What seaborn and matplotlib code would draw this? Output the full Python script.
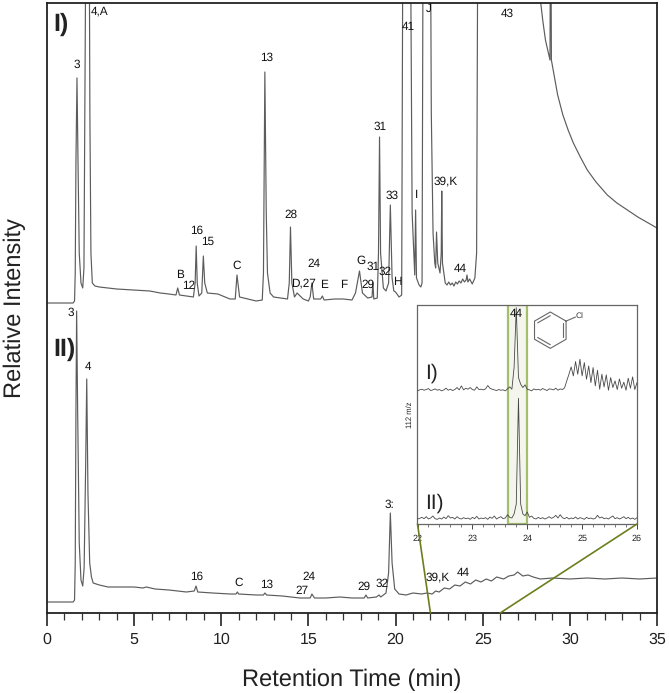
import numpy as np
import pandas as pd
import seaborn as sns
import matplotlib.pyplot as plt
from matplotlib.patches import ConnectionPatch

# chromatogram I (off scale parts go above the axis limit)
time_1 = [0, 1.5, 1.58, 1.62, 1.66, 1.72, 1.78, 1.85, 1.95, 2.05, 2.12, 2.2, 2.25, 2.42, 2.46, 2.52, 2.6, 2.75,
          3.0, 4.0, 5.0, 5.9, 6.5, 7.0, 7.4, 7.5, 7.6, 8.0, 8.4, 8.5, 8.56, 8.62, 8.72, 8.88, 8.97, 9.05, 9.2, 9.8,
          10.5, 10.8, 10.9, 11.05, 12.0, 12.35, 12.42, 12.5, 12.58, 12.65, 12.8, 13.0, 13.8, 13.9, 13.97, 14.05, 14.2,
          14.35, 14.7, 15.0, 15.1, 15.2, 15.3, 15.7, 15.8, 15.9, 16.5, 17.0, 17.5, 17.7, 17.93, 18.1, 18.4, 18.65, 18.7,
          18.75, 18.95, 19.02, 19.08, 19.14, 19.3, 19.45, 19.6, 19.7, 19.8, 19.9, 20.0, 20.2, 20.35, 20.42, 20.85,
          20.95, 21.1, 21.15, 21.2, 21.35, 21.45, 21.52, 21.58, 22.0, 22.05, 22.15, 22.25, 22.3, 22.35, 22.42, 22.55,
          22.62, 22.65, 22.69, 22.85, 22.95, 23.05, 23.15, 23.25, 23.35, 23.45, 23.55, 23.65, 23.75, 23.85, 23.95,
          24.05, 24.1, 24.15, 24.25, 24.4, 24.55, 24.65, 24.72, 28.25, 28.33, 28.45, 28.6, 28.86, 28.89, 28.91, 28.94,
          29.3, 29.6, 29.9, 30.2, 30.6, 31.0, 31.5, 32.15, 32.7, 33.3, 33.9, 34.4, 35]
signal_1 = [310, 310, 312, 340, 450, 535, 450, 360, 330, 325, 345, 600, 700, 700, 500, 360, 330, 327,
            326, 324, 323, 322, 320, 319, 318, 325, 318, 317, 316, 330, 367, 330, 317, 320, 357, 330, 320, 319,
            314, 314, 338, 316, 312, 313, 340, 541, 400, 340, 320, 316, 314, 330, 386, 330, 316,
            320, 314, 312, 316, 330, 314, 314, 317, 313, 314, 314, 313, 320, 342, 320, 315, 316, 331,
            314, 315, 360, 476, 360, 325, 322, 330, 408, 335, 322, 321, 316, 318, 700, 700,
            400, 338, 403, 335, 328, 326, 330, 700, 700, 500, 380, 350, 345, 381, 350, 340,
            360, 422, 350, 330, 328, 331, 328, 330, 327, 331, 329, 332, 330, 334, 331,
            333, 338, 331, 334, 329, 335, 360, 700, 700, 610, 592, 573, 553, 700, 700, 553,
            518, 498, 483, 470, 456, 443, 431, 418, 410, 403, 396, 391, 385]

# chromatogram II
time_2 = [0, 1.5, 1.58, 1.62, 1.66, 1.7, 1.76, 1.85, 1.95, 2.05, 2.13, 2.22, 2.28, 2.35, 2.45, 2.55, 2.65, 3.0, 3.5,
          4.0, 5.0, 5.5, 5.7, 6.2, 7.0, 8.0, 8.45, 8.55, 8.65, 9.5, 10.5, 10.85, 10.92, 11.0, 12.0, 12.42, 12.5, 12.6,
          13.5, 14.5, 15.1, 15.2, 15.35, 16.0, 16.8, 17.5, 18.2, 18.3, 18.4, 18.9, 19.05, 19.15, 19.45, 19.6, 19.7,
          19.8, 19.95, 20.2, 20.6, 21.0, 21.5, 21.8, 22.1, 22.3, 22.5, 22.8, 23.1, 23.4, 23.7, 24.0, 24.3, 24.6, 24.9,
          25.2, 25.5, 25.8, 26.2, 26.5, 26.8, 27.0, 27.3, 27.6, 27.9, 28.3, 29, 30, 31, 32, 33, 34, 35]
signal_2 = [11, 11, 13, 50, 200, 302, 200, 70, 33, 27, 45, 150, 234, 120, 50, 36, 30, 28, 26,
            26, 26, 25, 26, 24, 23, 21, 22, 27, 21, 20, 19, 19, 21, 19, 18, 18, 20, 18,
            17, 15, 15, 19, 15, 15, 16, 15, 15, 18, 15, 16, 18, 16, 20, 40, 100,
            50, 24, 19, 18, 20, 19, 20, 19, 22, 21, 25, 24, 28, 27, 31, 29, 33, 31,
            34, 32, 36, 34, 37, 38, 41, 37, 38, 36, 34, 35, 34, 35, 34, 35, 34, 35]

# inset, 112 m/z trace between 22 and 26 min, one reading every 0.04 min
inset_time = np.arange(101) * 0.04 + 22
inset_1 = [400, 403, 405, 402, 404, 407, 401, 403, 406, 402,
           404, 400, 403, 408, 402, 405, 401, 404, 410, 403,
           415, 403, 408, 405, 410, 404, 402, 412, 404, 405,
           403, 406, 416, 408, 405, 403, 401, 404, 402, 403,
           400, 406, 412, 405, 470, 650, 440, 420, 410, 418,
           405, 403, 400, 406, 403, 405, 402, 407, 404, 401,
           406, 405, 403, 408, 402, 406, 404, 409, 430, 450,
           472, 445, 488, 450, 495, 445, 485, 435, 475, 425,
           470, 415, 462, 405, 450, 412, 448, 402, 440, 410,
           430, 404, 436, 408, 426, 402, 438, 408, 442, 404, 425]
inset_2 = [15, 17, 20, 16, 22, 15, 18, 24, 16, 14,
           18, 15, 21, 16, 25, 18, 20, 15, 22, 17,
           15, 19, 16, 18, 14, 20, 16, 23, 15, 18,
           16, 19, 14, 21, 17, 24, 15, 19, 22, 16,
           18, 28, 20, 18, 30, 60, 378, 60, 30, 25,
           36, 20, 24, 17, 15, 20, 16, 19, 15, 18,
           22, 17, 20, 26, 18, 28, 19, 16, 20, 15,
           18, 16, 21, 15, 19, 17, 14, 20, 16, 18,
           15, 17, 26, 18, 21, 16, 18, 15, 20, 24,
           16, 19, 15, 18, 22, 16, 20, 15, 18, 14, 19]

# peak labels: text, retention time, height
labels_1 = ['3', '4,A', '13', '16', '15', 'B', '12', 'C', '28', '24', 'D,27', 'E', 'F', 'G', '31', '29', '32', 'H',
            '31', '33', '41', 'I', 'J', '39,K', '44', '43']
label_t_1 = [1.72, 3.0, 12.6, 8.56, 9.2, 7.6, 8.1, 10.9, 14.0, 15.3, 14.7, 15.9, 17.0, 18.0, 18.7, 18.4, 19.4, 20.1,
             19.1, 19.8, 20.7, 21.2, 21.9, 22.9, 23.7, 26.4]
label_v_1 = [548, 602, 555, 382, 371, 338, 327, 347, 398, 349, 330, 328, 328, 352, 346, 328, 341, 331,
             486, 417, 586, 418, 604, 432, 344, 599]
labels_2 = ['3', '4', '16', 'C', '13', '27', '24', '29', '32', '3:', '39,K', '44']
label_t_2 = [1.38, 2.36, 8.6, 11.0, 12.6, 14.6, 15.05, 18.2, 19.2, 19.65, 22.4, 23.9]
label_v_2 = [300, 246, 36, 30, 28, 22, 36, 26, 29, 108, 36, 40]

sns.set_theme(style='white')
plt.rcParams['font.family'] = ['Liberation Sans', 'DejaVu Sans']
plt.rcParams['text.hinting'] = 'no_hinting'

W, H = 669, 693
fig = plt.figure(figsize=(W / 100, H / 100), dpi=100)
ax = fig.add_axes([47 / W, (H - 613) / H, 610 / W, 610 / H])

line_col = '#5c5c5c'
df_1 = pd.DataFrame({'t': time_1, 'v': signal_1})
df_2 = pd.DataFrame({'t': time_2, 'v': signal_2})
sns.lineplot(data=df_1, x='t', y='v', ax=ax, color=line_col, lw=0.85, estimator=None, sort=False)
sns.lineplot(data=df_2, x='t', y='v', ax=ax, color=line_col, lw=0.85, estimator=None, sort=False)

ax.set_xlim(0, 35)
ax.set_ylim(0, 610)
ax.set_xticks(np.arange(0, 36, 5))
ax.set_xticks(np.arange(0, 36, 1), minor=True)
ax.set_yticks([])
ax.tick_params(axis='x', which='major', bottom=True, length=9, width=1.2, color='#222222', labelsize=11.5, pad=5)
ax.tick_params(axis='x', which='minor', bottom=True, length=5, width=0.9, color='#333333')
for s in ax.spines.values():
    s.set_color('#222222')
    s.set_linewidth(1.3)
ax.set_xlabel('Retention Time (min)', fontsize=17, labelpad=15, color='#222222')
ax.set_ylabel('Relative Intensity', fontsize=17, labelpad=15, color='#222222')
ax.tick_params(labelcolor='#222222')

for txt, t, v in zip(labels_1 + labels_2, label_t_1 + label_t_2, label_v_1 + label_v_2):
    ax.text(t, v, txt, fontsize=8.5, ha='center', va='center', color='#111111', zorder=6)

ax.text(6 / 610, 589 / 610, 'I)', transform=ax.transAxes, fontsize=18, fontweight='bold', va='center', color='#222222')
ax.text(6 / 610, 264 / 610, 'II)', transform=ax.transAxes, fontsize=18, fontweight='bold', va='center', color='#222222')

# inset with the 112 m/z traces
ins = fig.add_axes([417.5 / W, (H - 524) / H, 219.5 / W, 219 / H])
ins.axvspan(23.65, 24.0, facecolor='#f4f6ee', edgecolor='#a3bf6b', lw=1.6, zorder=1)
sns.lineplot(x=inset_time, y=inset_1, ax=ins, color='#484848', lw=0.6, estimator=None, zorder=3)
sns.lineplot(x=inset_time, y=inset_2, ax=ins, color='#484848', lw=0.6, estimator=None, zorder=3)
ins.set_xlim(22, 26)
ins.set_ylim(0, 658)
ins.set_xticks([22, 23, 24, 25, 26])
ins.set_xticks(np.arange(22, 26.01, 0.2), minor=True)
ins.set_yticks([])
ins.tick_params(axis='x', which='major', bottom=True, length=3.5, width=0.7, color='#444444', labelsize=6.5,
                pad=4, labelcolor='#222222')
ins.tick_params(axis='x', which='minor', bottom=True, length=2, width=0.5, color='#444444')
for s in ins.spines.values():
    s.set_color('#666666')
    s.set_linewidth(0.9)
ins.set_ylabel('112 m/z', fontsize=5.5, labelpad=3, color='#222222')
ins.text(0.035, 403 / 658 + 0.075, 'I)', transform=ins.transAxes, fontsize=15, va='center', color='#222222')
ins.text(0.035, 0.095, 'II)', transform=ins.transAxes, fontsize=15, va='center', color='#222222')
ins.text(0.45, 0.96, '44', transform=ins.transAxes, fontsize=8.5, ha='center', va='center', color='#111111', zorder=6)

# chlorobenzene sketch
ang = np.deg2rad(np.arange(30, 391, 60))
cx, cy, r = 0.605, 0.885, 0.083
ins.plot(cx + r * np.cos(ang), cy + r * np.sin(ang), transform=ins.transAxes, color='#666666', lw=0.8)
for i in [1, 3, 5]:
    a0, a1 = ang[i], ang[i + 1]
    ins.plot([cx + 0.8 * r * np.cos(a0), cx + 0.8 * r * np.cos(a1)],
             [cy + 0.8 * r * np.sin(a0), cy + 0.8 * r * np.sin(a1)],
             transform=ins.transAxes, color='#666666', lw=0.8)
ins.plot([cx + r * np.cos(ang[0]), 0.72], [cy + r * np.sin(ang[0]), 0.945], transform=ins.transAxes,
         color='#666666', lw=0.8)
ins.text(0.74, 0.95, 'Cl', transform=ins.transAxes, fontsize=6, ha='center', va='center', color='#333333')

# zoom guide lines from the inset down to the main axis
for xa in [22, 26]:
    con = ConnectionPatch(xyA=(xa, 0), coordsA=ins.transData, xyB=(xa, 0), coordsB=ax.transData,
                          color='#6b7f1e', lw=1.2, zorder=7)
    fig.add_artist(con)

fig.savefig('out.png', dpi=100)
